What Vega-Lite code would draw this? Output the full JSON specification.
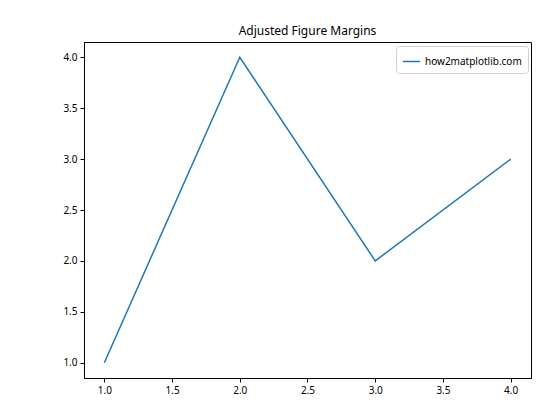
{
  "$schema": "https://vega.github.io/schema/vega-lite/v6.json",
  "width": 447,
  "height": 336,
  "autosize": {"type": "none"},
  "padding": {"left": 84, "top": 42, "right": 29, "bottom": 42},
  "background": "white",
  "title": {"text": "Adjusted Figure Margins", "font": "Noto Sans", "fontSize": 12, "fontWeight": "normal", "color": "black", "offset": 4},
  "data": {"values": [
    {"x": 1, "y": 1, "series": "how2matplotlib.com"},
    {"x": 2, "y": 4, "series": "how2matplotlib.com"},
    {"x": 3, "y": 2, "series": "how2matplotlib.com"},
    {"x": 4, "y": 3, "series": "how2matplotlib.com"}
  ]},
  "mark": {"type": "line", "strokeWidth": 1.5},
  "encoding": {
    "x": {"field": "x", "type": "quantitative", "scale": {"domain": [0.85, 4.15], "nice": false, "zero": false},
      "axis": {"title": null, "values": [1, 1.5, 2, 2.5, 3, 3.5, 4], "format": ".1f", "grid": false, "domainColor": "black", "tickColor": "black", "tickSize": 4, "labelFont": "Noto Sans", "labelFontSize": 10, "labelColor": "black", "labelPadding": 3, "domainWidth": 1}},
    "y": {"field": "y", "type": "quantitative", "scale": {"domain": [0.85, 4.15], "nice": false, "zero": false},
      "axis": {"title": null, "values": [1, 1.5, 2, 2.5, 3, 3.5, 4], "format": ".1f", "grid": false, "domainColor": "black", "tickColor": "black", "tickSize": 4, "labelFont": "Noto Sans", "labelFontSize": 10, "labelColor": "black", "labelPadding": 3, "domainWidth": 1}},
    "color": {"field": "series", "type": "nominal", "scale": {"range": ["#1f77b4"]},
      "legend": {"title": null, "orient": "none", "legendX": 312, "legendY": 4, "symbolType": "stroke", "symbolSize": 300, "symbolStrokeWidth": 1.5, "labelFont": "Noto Sans", "labelFontSize": 10, "labelColor": "black", "padding": 6, "strokeColor": "#d0d0d0", "fillColor": "white", "cornerRadius": 3}}
  },
  "config": {"view": {"stroke": "black", "strokeWidth": 1}}
}
